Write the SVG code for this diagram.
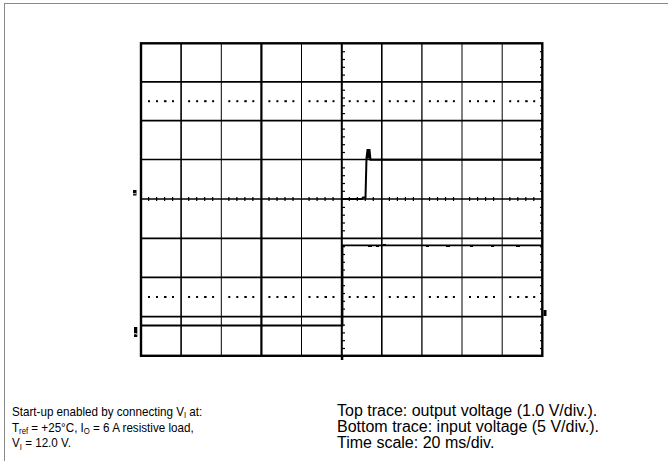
<svg xmlns="http://www.w3.org/2000/svg" width="668" height="461" viewBox="0 0 668 461">
<style>
.frame{fill:none;stroke:#8a8a8a;stroke-width:1}
.g{stroke:#000;fill:none}
.tk{fill:#000}
.tr{fill:none;stroke:#000;stroke-linejoin:miter}
.tl{font-family:"Liberation Sans",Arial,sans-serif;font-size:12.8px;fill:#000}
.trt{font-family:"Liberation Sans",Arial,sans-serif;font-size:16px;fill:#000}
.mk{font-family:"Liberation Sans",Arial,sans-serif;font-size:4px;fill:#fff;font-weight:bold}
</style>
<defs>
<g id="dots">
<rect x="7" y="-1" width="2" height="2"/><rect x="15" y="-1" width="2" height="2"/><rect x="23" y="-1" width="2.5" height="2"/><rect x="31" y="-1" width="2" height="2"/>
</g>
<g id="hticks">
<rect x="7" y="-2" width="1.2" height="4"/><rect x="15" y="-2" width="1.2" height="4"/><rect x="23" y="-2" width="1.2" height="4"/><rect x="31" y="-2" width="1.2" height="4"/>
</g>
<g id="vticks">
<rect x="0" y="7.8" width="3" height="1.2"/><rect x="0" y="15.6" width="3" height="1.2"/><rect x="0" y="23.4" width="3" height="1.2"/><rect x="0" y="31.2" width="3" height="1.2"/>
</g>
</defs>
<rect class="frame" x="4.5" y="3.5" width="700" height="500"/>
<g id="grid">
<g class="g">
<line x1="141" y1="81.8" x2="542" y2="81.8" stroke-width="1.7"/>
<line x1="141" y1="120.7" x2="542" y2="120.7" stroke-width="1.7"/>
<line x1="141" y1="159.5" x2="542" y2="159.5" stroke-width="1.5"/>
<line x1="141" y1="199" x2="542" y2="199" stroke-width="1.3"/>
<line x1="141" y1="238.3" x2="542" y2="238.3" stroke-width="1.7"/>
<line x1="141" y1="277.3" x2="542" y2="277.3" stroke-width="1.7"/>
<line x1="141" y1="316.7" x2="542" y2="316.7" stroke-width="1.7"/>
<line x1="181.1" y1="43" x2="181.1" y2="356" stroke-width="1.6"/>
<line x1="221.3" y1="43" x2="221.3" y2="356" stroke-width="1"/>
<line x1="261.4" y1="43" x2="261.4" y2="356" stroke-width="2.2"/>
<line x1="301.5" y1="43" x2="301.5" y2="356" stroke-width="1"/>
<line x1="341.8" y1="43" x2="341.8" y2="356" stroke-width="2"/>
<line x1="381.8" y1="43" x2="381.8" y2="356" stroke-width="1.6"/>
<line x1="421.9" y1="43" x2="421.9" y2="356" stroke-width="1.3"/>
<line x1="462" y1="43" x2="462" y2="356" stroke-width="1"/>
<line x1="502.2" y1="43" x2="502.2" y2="356" stroke-width="1"/>
<rect x="141" y="43.3" width="401.3" height="312.5" stroke-width="2.4"/>
</g>
<g class="tk">
<use href="#dots" x="141" y="101.2"/><use href="#dots" x="181.1" y="101.2"/><use href="#dots" x="221.3" y="101.2"/><use href="#dots" x="261.4" y="101.2"/><use href="#dots" x="301.5" y="101.2"/><use href="#dots" x="341.7" y="101.2"/><use href="#dots" x="381.8" y="101.2"/><use href="#dots" x="421.9" y="101.2"/><use href="#dots" x="462" y="101.2"/><use href="#dots" x="502.2" y="101.2"/>
<use href="#dots" x="141" y="297"/><use href="#dots" x="181.1" y="297"/><use href="#dots" x="221.3" y="297"/><use href="#dots" x="261.4" y="297"/><use href="#dots" x="301.5" y="297"/><use href="#dots" x="341.7" y="297"/><use href="#dots" x="381.8" y="297"/><use href="#dots" x="421.9" y="297"/><use href="#dots" x="462" y="297"/><use href="#dots" x="502.2" y="297"/>
<use href="#hticks" x="141" y="199"/><use href="#hticks" x="181.1" y="199"/><use href="#hticks" x="221.3" y="199"/><use href="#hticks" x="261.4" y="199"/><use href="#hticks" x="301.5" y="199"/><use href="#hticks" x="341.7" y="199"/><use href="#hticks" x="381.8" y="199"/><use href="#hticks" x="421.9" y="199"/><use href="#hticks" x="462" y="199"/><use href="#hticks" x="502.2" y="199"/>
<use href="#vticks" x="342" y="43.3"/><use href="#vticks" x="342" y="81.8"/><use href="#vticks" x="342" y="120.7"/><use href="#vticks" x="342" y="159.5"/><use href="#vticks" x="342" y="199"/><use href="#vticks" x="342" y="238.3"/><use href="#vticks" x="342" y="277.3"/><use href="#vticks" x="342" y="316.7"/>
<use href="#vticks" x="540" y="43.3"/><use href="#vticks" x="540" y="81.8"/><use href="#vticks" x="540" y="120.7"/><use href="#vticks" x="540" y="159.5"/><use href="#vticks" x="540" y="199"/><use href="#vticks" x="540" y="238.3"/><use href="#vticks" x="540" y="277.3"/><use href="#vticks" x="540" y="316.7"/>
</g>
</g>
<g id="traces">
<polyline class="tr" stroke-width="2" points="342,199 362,199 363,197.5 365.5,197.5 366.5,158 367.5,150 369.5,150 370.5,159.8 542,159.8"/>
<rect x="367" y="149.5" width="3" height="9" fill="#000"/>
<polyline class="tr" stroke-width="1.8" points="141,325.5 342.5,325.5 342.5,245.3 542,245.3"/>
<g class="tk">
<rect x="368" y="246" width="4" height="1"/><rect x="376" y="246" width="3" height="1"/><rect x="383" y="244" width="3" height="1"/><rect x="426" y="246" width="3" height="1"/><rect x="446" y="246" width="4" height="1"/><rect x="470" y="246" width="3" height="1"/><rect x="491" y="246" width="3" height="1"/><rect x="516" y="246" width="4" height="1"/>
</g>
</g>
<g id="marker1">
<rect x="133" y="190" width="3.5" height="5.5" fill="#000"/>
<text class="mk" transform="translate(136,194.8) rotate(-90)">1</text>
</g>
<g id="marker2">
<rect x="134" y="327" width="3.3" height="10" fill="#000"/>
<text class="mk" transform="translate(136.8,335) rotate(-90)">2</text>
</g>
<g id="trigger-level">
<rect x="543.5" y="310" width="3" height="6" fill="#000"/>
</g>
<g id="trigger-pos">
<rect x="340.8" y="356" width="2.5" height="4" fill="#000"/>
</g>
<g id="caption-left" transform="translate(12,0) scale(0.91,1) translate(-12,0)">
<text class="tl" x="12" y="416">Start-up enabled by connecting V<tspan font-size="8.5" dy="2.5">I</tspan><tspan dy="-2.5"> at:</tspan></text>
<text class="tl" x="12" y="431.7">T<tspan font-size="8.5" dy="2.5">ref</tspan><tspan dy="-2.5"> = +25°C, I</tspan><tspan font-size="8.5" dy="2.5">O</tspan><tspan dy="-2.5"> = 6 A resistive load,</tspan></text>
<text class="tl" x="12" y="447.5">V<tspan font-size="8.5" dy="2.5">I</tspan><tspan dy="-2.5"> = 12.0 V.</tspan></text>
</g>
<g id="caption-right">
<text class="trt" x="337" y="416">Top trace: output voltage (1.0 V/div.).</text>
<text class="trt" x="337" y="431.7">Bottom trace: input voltage (5 V/div.).</text>
<text class="trt" x="337" y="447.5">Time scale: 20 ms/div.</text>
</g>
</svg>
